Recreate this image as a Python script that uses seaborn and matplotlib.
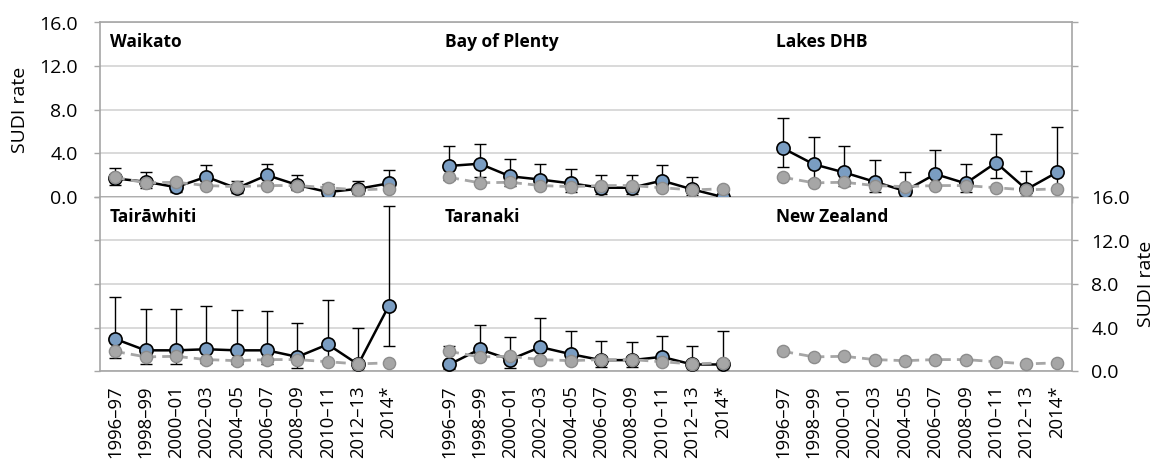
import numpy as np
import pandas as pd
import matplotlib
matplotlib.use("Agg")
import matplotlib.pyplot as plt
import seaborn as sns
from matplotlib.ticker import FixedLocator, NullFormatter

# ---- data -------------------------------------------------------------
periods = ["1996–97", "1998–99", "2000–01", "2002–03", "2004–05",
           "2006–07", "2008–09", "2010–11", "2012–13", "2014*"]

nz_rate = [1.8, 1.3, 1.35, 1.05, 0.95, 1.05, 1.05, 0.85, 0.65, 0.75]

waikato_rate = [1.7, 1.4, 0.9, 1.85, 0.8, 2.0, 1.1, 0.45, 0.75, 1.25]
waikato_lo = [1.1, 0.8, 0.5, 1.1, 0.4, 1.3, 0.6, 0.2, 0.3, 0.6]
waikato_hi = [2.7, 2.3, 1.6, 2.9, 1.5, 3.0, 2.0, 1.2, 1.45, 2.45]

bop_rate = [2.85, 3.05, 1.9, 1.6, 1.25, 0.85, 0.85, 1.5, 0.7, 0.0]
bop_lo = [1.6, 1.8, 1.0, 0.8, 0.5, 0.3, 0.3, 0.7, 0.2, 0.0]
bop_hi = [4.7, 4.9, 3.5, 3.05, 2.6, 2.0, 2.0, 2.9, 1.8, 0.0]

lakes_rate = [4.45, 3.0, 2.25, 1.4, 0.55, 2.1, 1.25, 3.15, 0.7, 2.25]
lakes_lo = [2.75, 1.6, 1.0, 0.45, 0.1, 0.9, 0.45, 1.75, 0.1, 0.7]
lakes_hi = [7.2, 5.5, 4.65, 3.35, 2.25, 4.35, 3.0, 5.8, 2.4, 6.45]

tair_rate = [2.95, 1.9, 1.9, 2.0, 1.9, 1.9, 1.3, 2.45, 0.6, 5.95]
tair_lo = [1.2, 0.6, 0.6, 0.7, 0.65, 0.65, 0.3, 0.9, 0.05, 2.3]
tair_hi = [6.8, 5.7, 5.7, 5.95, 5.65, 5.55, 4.45, 6.55, 3.95, 15.2]

taranaki_rate = [0.6, 2.0, 1.05, 2.2, 1.55, 1.0, 1.0, 1.3, 0.6, 0.6]
taranaki_lo = [0.15, 1.1, 0.3, 1.2, 0.7, 0.35, 0.35, 0.6, 0.1, 0.05]
taranaki_hi = [2.3, 4.25, 3.15, 4.85, 3.7, 2.75, 2.7, 3.2, 2.3, 3.65]

top_row = [("Waikato", waikato_rate, waikato_lo, waikato_hi),
           ("Bay of Plenty", bop_rate, bop_lo, bop_hi),
           ("Lakes DHB", lakes_rate, lakes_lo, lakes_hi)]
bottom_row = [("Tairāwhiti", tair_rate, tair_lo, tair_hi),
              ("Taranaki", taranaki_rate, taranaki_lo, taranaki_hi),
              ("New Zealand", None, None, None)]

# ---- style -------------------------------------------------------------
sns.set_theme(style="white")
plt.rcParams["font.family"] = ["Open Sans", "DejaVu Sans"]

BLUE = "#7a9dc2"
GREY = "#a6a6a6"
GREY_EDGE = "#8c8c8c"
AXIS = "#a6a6a6"
GRID = "#cfcfcf"
GAP = 11           # categories per group incl. one blank slot
N = len(periods)
TICK_FS = 14
XTICK_FS = 13.3
TITLE_FS = 12.5

fig = plt.figure(figsize=(11.57, 4.61), dpi=100)
left, right = 100 / 1157, 1072 / 1157
top, mid, bot = 1 - 22.5 / 461, 1 - 197 / 461, 1 - 371 / 461
ax_top = fig.add_axes([left, mid, right - left, top - mid])
ax_bot = fig.add_axes([left, bot, right - left, mid - bot])

title_x = [-0.17, 10.85, 21.75]


def draw_row(ax, row):
    for g, (name, rate, lo, hi) in enumerate(row):
        pos = np.arange(N) + g * GAP
        nz = pd.DataFrame({"pos": pos, "rate": nz_rate})
        if rate is not None:
            df = pd.DataFrame({"pos": pos, "rate": rate, "lo": lo, "hi": hi})
            ax.errorbar(df["pos"], df["rate"],
                        yerr=[df["rate"] - df["lo"], df["hi"] - df["rate"]],
                        fmt="none", ecolor="black", elinewidth=1.0,
                        capsize=4, capthick=1.0, zorder=2.5)
            sns.lineplot(data=df, x="pos", y="rate", ax=ax, sort=False,
                         errorbar=None, color="black", linewidth=1.8,
                         marker="o", markersize=9.5, markerfacecolor=BLUE,
                         markeredgecolor="black", markeredgewidth=1.2,
                         zorder=3, clip_on=False)
        sns.lineplot(data=nz, x="pos", y="rate", ax=ax, sort=False,
                     errorbar=None, color=GREY, linewidth=2.0,
                     linestyle=(0, (3.5, 2.2)), marker="o", markersize=8.8,
                     markerfacecolor=GREY, markeredgecolor=GREY_EDGE,
                     markeredgewidth=1.0, zorder=4, clip_on=False)
        ax.text(title_x[g], 14.2, name, fontsize=TITLE_FS, fontweight="bold",
                va="center", ha="left", color="black")


draw_row(ax_top, top_row)
draw_row(ax_bot, bottom_row)

label_pos = [g * GAP + i for g in range(3) for i in range(N)]
label_txt = [p for g in range(3) for p in periods]
boundaries = [k - 0.5 for k in range(3 * GAP)]

for ax in (ax_top, ax_bot):
    ax.set_xlim(-0.5, 3 * GAP - 1.5)
    ax.set_ylim(0, 16)
    ax.set_yticks([0, 4, 8, 12, 16])
    ax.yaxis.grid(True, color=GRID, linewidth=1.1)
    ax.xaxis.grid(False)
    ax.set_axisbelow(True)
    for s in ax.spines.values():
        s.set_color(AXIS)
        s.set_linewidth(1.2)
    ax.set_xlabel("")
    ax.set_ylabel("")
    ax.tick_params(axis="y", which="both", left=True, right=True,
                   length=4, width=1.0, color=AXIS, labelsize=TICK_FS,
                   labelcolor="black")

# top row: category boundary ticks below, labels on the left
ax_top.xaxis.set_major_locator(FixedLocator(boundaries))
ax_top.xaxis.set_major_formatter(NullFormatter())
ax_top.tick_params(axis="x", bottom=True, length=4, width=1.0, color=AXIS,
                   direction="out")
ax_top.set_yticklabels(["0.0", "4.0", "8.0", "12.0", "16.0"])
ax_top.tick_params(axis="y", labelleft=True, labelright=False, pad=12)
ax_top.set_ylabel("SUDI rate", fontsize=TICK_FS, labelpad=7, color="black")

# bottom row: period labels, values on the right
ax_bot.spines["top"].set_visible(False)
ax_bot.set_xticks(label_pos)
ax_bot.set_xticklabels(label_txt, rotation=90, fontsize=XTICK_FS)
ax_bot.tick_params(axis="x", bottom=False, pad=4.5, labelcolor="black")
ax_bot.set_yticklabels(["0.0", "4.0", "8.0", "12.0", "16.0"])
ax_bot.tick_params(axis="y", labelleft=False, labelright=True, pad=10)
ax_bot.yaxis.set_label_position("right")
ax_bot.set_ylabel("SUDI rate", fontsize=TICK_FS, labelpad=5, color="black")

fig.savefig("out.png", dpi=100)
